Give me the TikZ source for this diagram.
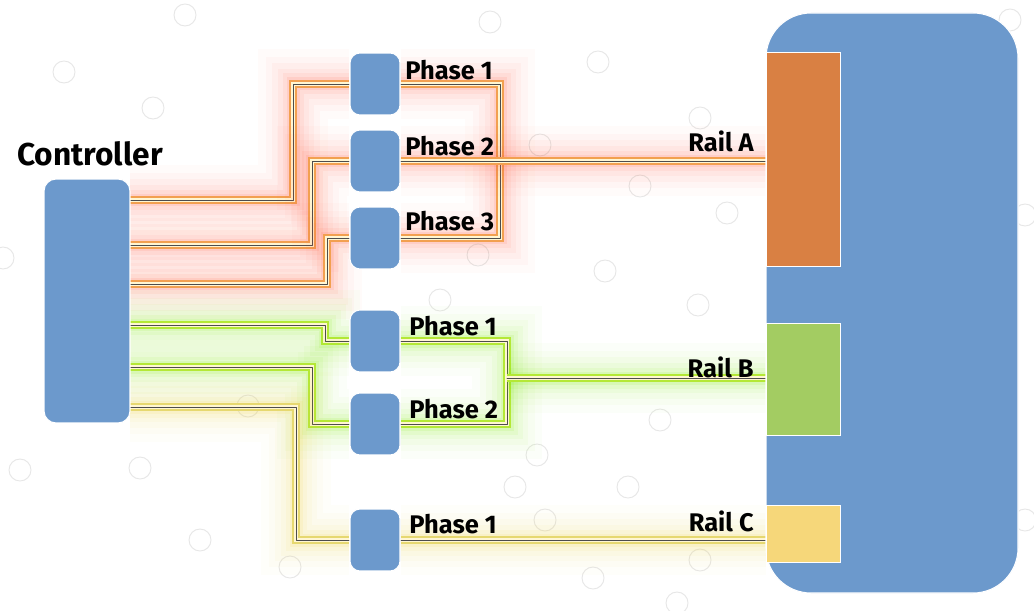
\documentclass[tikz,border=0pt]{standalone}
\usepackage{fontspec}
\setmainfont{Fira Sans}
\usetikzlibrary{calc}
\definecolor{boxblue}{HTML}{6C99CC}
\definecolor{railorange}{HTML}{D98043}
\definecolor{railgreen}{HTML}{A3CC62}
\definecolor{railyellow}{HTML}{F6D77A}
\definecolor{glowred}{HTML}{FF5A3C}
\definecolor{glowgreen}{HTML}{7CF000}
\definecolor{glowyellow}{HTML}{F2D640}
\definecolor{edgeorange}{HTML}{F2A050}
\definecolor{edgegreen}{HTML}{B4E836}
\definecolor{edgeyellow}{HTML}{E6D870}
\definecolor{coreyellow}{HTML}{FFF6D2}
\definecolor{bubble}{HTML}{E6E6E6}
\tikzset{
  box/.style={fill=boxblue, draw=white, line width=0.6pt, rounded corners=0.2cm,
    minimum width=1cm, minimum height=1.24cm, inner sep=0pt},
  railbox/.style={draw=white, line width=0.6pt, inner sep=0pt, minimum width=1.48cm},
  lbl/.style={font=\bfseries\fontsize{14.5}{16}\selectfont, inner sep=0pt},
  bubblec/.style={draw=bubble, line width=0.5pt},
  glow/.style n args={3}{line join=round, line cap=round,
    preaction={draw=#1, opacity=0.025, line width=1.4cm},
    preaction={draw=#1, opacity=0.03, line width=1.1cm},
    preaction={draw=#1, opacity=0.04, line width=0.85cm},
    preaction={draw=#1, opacity=0.05, line width=0.62cm},
    preaction={draw=#1, opacity=0.07, line width=0.42cm},
    preaction={draw=#1, opacity=0.1, line width=0.26cm},
    preaction={draw=#2, line width=0.15cm},
    preaction={draw=#3, line width=0.085cm},
    draw=black!70, line width=0.3pt},
  wireR/.style={glow={glowred}{edgeorange}{coreyellow}},
  wireG/.style={glow={glowgreen}{edgegreen}{coreyellow}},
  wireY/.style={glow={glowyellow}{edgeyellow}{coreyellow}},
}
\begin{document}
\begin{tikzpicture}[x=0.02cm, y=-0.02cm]
\useasboundingbox (0,0) rectangle (1034,611);
\fill[white] (0,0) rectangle (1034,611);
% background bubbles
\foreach \p in {(185,15),(490,22),(64,72),(153,108),(598,62),(700,118),(640,186),
  (727,213),(605,271),(698,305),(3,258),(478,255),(537,455),(628,487),(515,487),
  (200,540),(290,567),(20,470),(248,406),(660,420),(593,578),(677,603),(140,468),
  (545,520),(700,560),(1010,20),(1025,215),(1025,520),(540,145),(440,300)}
  \draw[bubblec] \p circle (11);

% main blocks
\node[box, minimum width=1.72cm, minimum height=4.88cm, rounded corners=0.24cm] (ctrl) at (87,301) {};
\node[lbl, font=\bfseries\fontsize{18}{20}\selectfont, anchor=base] (ctrllbl) at (90,166) {Controller};

\draw[fill=boxblue, draw=white, line width=0.6pt, rounded corners=0.9cm] (766,13) rectangle (1018,593);
\node[railbox, fill=railorange, minimum height=4.28cm, anchor=north west] (railA) at (766,52) {};
\node[railbox, fill=railgreen, minimum height=2.24cm, anchor=north west] (railB) at (766,323) {};
\node[railbox, fill=railyellow, minimum height=1.14cm, anchor=north west] (railC) at (766,505) {};

% phase boxes
\node[box] (p1) at (375,84) {};
\node[box] (p2) at (375,161) {};
\node[box] (p3) at (375,238) {};
\node[box] (p4) at (375,341) {};
\node[box] (p5) at (375,424) {};
\node[box] (p6) at (375,540) {};

% wire start points on controller
\coordinate (s1) at (130,200);
\coordinate (s2) at (130,245);
\coordinate (s3) at (130,284);
\coordinate (s4) at (130,325);
\coordinate (s5) at (130,367);
\coordinate (s6) at (130,407);
\coordinate (jB) at (507,378);

% glowing wires
\draw[wireR] (s1) -- (293,200) -- (293,84) -- (p1.west);
\draw[wireR] (s2) -- (312,245) -- (312,161) -- (p2.west);
\draw[wireR] (s3) -- (327,284) -- (327,238) -- (p3.west);
\draw[wireR] (p1.east) -- (500,84) -- (500,238) -- (p3.east);
\draw[wireR] (p2.east) -- (railA.west |- p2.east);
\draw[wireG] (s4) -- (325,325) -- (325,341) -- (p4.west);
\draw[wireG] (s5) -- (312,367) -- (312,424) -- (p5.west);
\draw[wireG] (p4.east) -- (507,341) -- (507,424) -- (p5.east);
\draw[wireG] (jB) -- (railB.west |- jB);
\draw[wireY] (s6) -- (296,407) -- (296,540) -- (p6.west);
\draw[wireY] (p6.east) -- (railC.west |- p6.east);

% redraw boxes on top of glow
\node[box, minimum width=1.72cm, minimum height=4.88cm, rounded corners=0.24cm] at (ctrl) {};
\foreach \b in {p1,p2,p3,p4,p5,p6} \node[box] at (\b) {};
\draw[fill=boxblue, draw=white, line width=0.6pt, rounded corners=0.9cm] (766,13) rectangle (1018,593);
\node[railbox, fill=railorange, minimum height=4.28cm] at (railA) {};
\node[railbox, fill=railgreen, minimum height=2.24cm] at (railB) {};
\node[railbox, fill=railyellow, minimum height=1.14cm] at (railC) {};

% labels
\node[lbl, anchor=base west] (l1) at (405,80) {Phase 1};
\node[lbl, anchor=base west] (l2) at (405,156) {Phase 2};
\node[lbl, anchor=base west] (l3) at (405,231) {Phase 3};
\node[lbl, anchor=base west] (l4) at (409,335) {Phase 1};
\node[lbl, anchor=base west] (l5) at (409,418) {Phase 2};
\node[lbl, anchor=base west] (l6) at (409,533) {Phase 1};
\node[lbl, anchor=base east] (rA) at (754,152) {Rail A};
\node[lbl, anchor=base east] (rB) at (754,377) {Rail B};
\node[lbl, anchor=base east] (rC) at (754,531) {Rail C};
\end{tikzpicture}
\end{document}
